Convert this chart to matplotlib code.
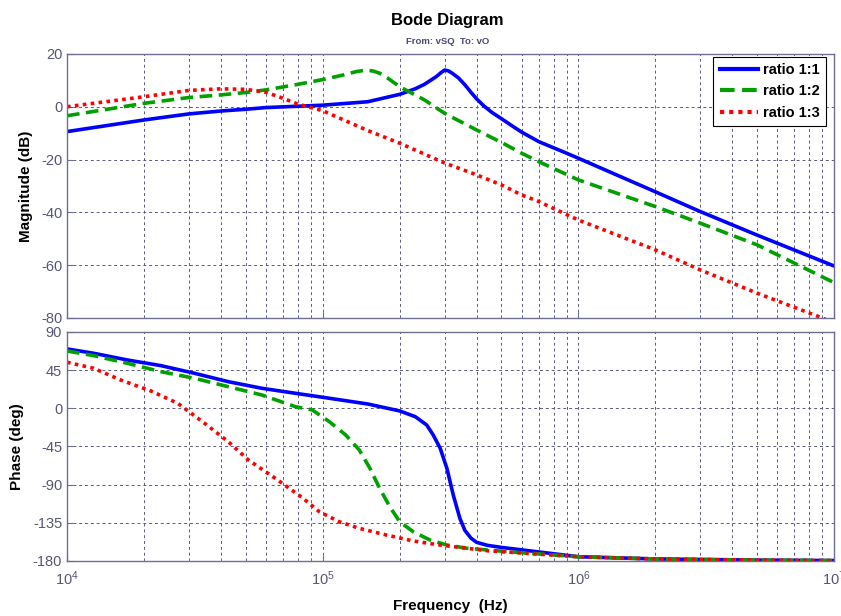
import matplotlib
matplotlib.use("Agg")
import matplotlib.pyplot as plt
import numpy as np
from matplotlib.ticker import LogLocator, NullFormatter

plt.rcParams["font.family"] = ["Liberation Sans", "DejaVu Sans"]
plt.rcParams["axes.unicode_minus"] = False

# magnitude traces (frequency in Hz, gain in dB)
mag_f_11 = [1e4, 2e4, 3e4, 4e4, 5e4, 6e4, 8e4, 1e5, 1.5e5, 2e5, 2.3e5, 2.5e5,
            2.78e5, 2.9e5, 3e5, 3.1e5, 3.2e5, 3.4e5, 3.6e5, 3.8e5, 4e5, 4.27e5,
            4.6e5, 5e5, 5.5e5, 6e5, 7e5, 9e5, 1e6, 2e6, 3e6, 5e6, 1e7]
mag_db_11 = [-9.4, -5.0, -2.7, -1.6, -0.95, -0.3, 0.2, 0.6, 1.9, 4.7, 6.8, 8.5,
             11.4, 12.9, 13.9, 13.6, 12.8, 10.9, 8.3, 5.5, 3.0, 0.3,
             -2.2, -4.5, -7.2, -9.6, -13.2, -17.6, -19.5, -32.2, -39.7, -48.6,
             -60.3]

mag_f_12 = [1e4, 2e4, 3e4, 4e4, 5e4, 6e4, 8e4, 1e5, 1.2e5, 1.35e5, 1.48e5,
            1.58e5, 1.67e5, 1.8e5, 2e5, 2.5e5, 3e5, 4e5, 5e5, 6e5, 7e5, 1e6,
            2e6, 3e6, 5e6, 1e7]
mag_db_12 = [-3.4, 1.3, 3.5, 4.5, 5.4, 6.4, 8.5, 10.3, 12.0, 13.3, 13.9,
             13.5, 12.7, 10.8, 7.6, 2.6, -2.5, -8.8, -13.5, -17.6, -20.8,
             -27.7, -37.8, -44.1, -52.3, -66.6]

mag_f_13 = [1e4, 2e4, 3e4, 4e4, 5e4, 6e4, 7e4, 8e4, 9e4, 1e5, 1.5e5, 2e5, 3e5,
            4e5, 5e5, 6e5, 7e5, 1e6, 2e6, 3e6, 5e6, 9e6, 1e7]
mag_db_13 = [0.0, 3.8, 6.2, 6.8, 6.6, 5.5, 3.2, 1.0, -0.3, -1.5, -9.0, -13.8,
             -21.3, -25.8, -29.6, -33.4, -35.9, -42.9, -54.2, -61.8, -70.6,
             -80.0, -82.0]

# phase traces (frequency in Hz, phase in degrees)
ph_f_11 = [1e4, 1.27e4, 1.72e4, 2.33e4, 3.15e4, 4.27e4, 5.78e4, 7.82e4, 1e5,
           1.5e5, 2e5, 2.3e5, 2.55e5, 2.7e5, 2.88e5, 3.06e5, 3.24e5, 3.44e5,
           3.6e5, 3.8e5, 4e5, 4.4e5, 5e5, 1e6, 2e6, 5e6, 1e7]
ph_deg_11 = [70, 64.9, 57, 50.3, 41.3, 31.4, 23.6, 17.7, 13, 5.1, -3.1, -9.8,
             -19.6, -31, -47, -70.7, -102, -129.7, -144, -153, -158, -161.5,
             -164, -175, -177.6, -179, -179.5]

ph_f_12 = [1e4, 1.27e4, 1.72e4, 2.33e4, 3.15e4, 4.27e4, 5.78e4, 7.82e4, 9.1e4,
           1.06e5, 1.23e5, 1.39e5, 1.53e5, 1.67e5, 1.83e5, 2e5, 2.26e5, 2.63e5,
           3.06e5, 3.67e5, 4.4e5, 5.27e5, 1e6, 2e6, 5e6, 1e7]
ph_deg_12 = [67.6, 62.1, 53.1, 43.2, 35.4, 25.5, 15.7, 1.9, -1.9, -15.6, -31.4,
             -49.1, -70.7, -94.3, -116, -133.7, -145.5, -155.3, -161.2, -165,
             -167, -169, -175, -177.6, -179, -179.5]

ph_f_13 = [1e4, 1.27e4, 1.62e4, 2.13e4, 2.71e4, 3.45e4, 4.27e4, 5.12e4, 6.52e4,
           8.32e4, 9.7e4, 1.16e5, 1.39e5, 1.77e5, 2.26e5, 2.88e5, 3.67e5, 4.4e5,
           5.6e5, 1e6, 2e6, 5e6, 1e7]
ph_deg_13 = [54.3, 47.2, 33.4, 20.4, 5.9, -17.6, -39.3, -60.9, -82.5, -105.3,
             -121.9, -133.7, -141.5, -149.3, -156.4, -161.2, -165, -167.9, -170,
             -175, -177.6, -179, -179.5]

labels = ["ratio 1:1", "ratio 1:2", "ratio 1:3"]
colors = ["#0000ff", "#00a000", "#ff0000"]
styles = ["-", (0, (3.5, 1.8)), (0, (1, 1.2))]

axis_col = "#6e6e90"
tick_col = "#55557a"

fig = plt.figure(figsize=(8.41, 6.16), dpi=100)
ax_m = fig.add_axes([0.0797, 0.4838, 0.912, 0.4286])
ax_p = fig.add_axes([0.0797, 0.0893, 0.912, 0.3718])

mags = [(mag_f_11, mag_db_11), (mag_f_12, mag_db_12), (mag_f_13, mag_db_13)]
phases = [(ph_f_11, ph_deg_11), (ph_f_12, ph_deg_12), (ph_f_13, ph_deg_13)]

for (f, m), lab, c, ls in zip(mags, labels, colors, styles):
    ax_m.semilogx(f, m, color=c, linestyle=ls, linewidth=2.6, label=lab)
for (f, p), c, ls in zip(phases, colors, styles):
    ax_p.semilogx(f, p, color=c, linestyle=ls, linewidth=2.6)

for ax in (ax_m, ax_p):
    ax.set_xlim(1e4, 1e7)
    ax.xaxis.set_major_locator(LogLocator(base=10))
    ax.xaxis.set_minor_locator(LogLocator(base=10, subs=np.arange(2, 10)))
    ax.xaxis.set_minor_formatter(NullFormatter())
    ax.grid(True, which="both", axis="x", color="#5a5a80", linestyle=(0, (3, 3)),
            linewidth=0.7)
    ax.grid(True, which="major", axis="y", color="#5a5a80", linestyle=(0, (3, 3)),
            linewidth=0.7)
    for s in ax.spines.values():
        s.set_color(axis_col)
        s.set_linewidth(1.0)
    ax.tick_params(which="both", direction="in", colors=axis_col,
                   labelcolor=tick_col, labelsize=10.5, length=4)
    ax.tick_params(which="minor", length=2)

ax_m.set_ylim(-80, 20)
ax_m.set_yticks(np.arange(-80, 21, 20))
ax_m.tick_params(labelbottom=False)
ax_m.set_ylabel("Magnitude (dB)", fontsize=11, fontweight="bold", labelpad=6)

ax_p.set_ylim(-180, 90)
ax_p.set_yticks(np.arange(-180, 91, 45))
ax_p.set_ylabel("Phase (deg)", fontsize=11, fontweight="bold", labelpad=6)
ax_p.set_xlabel("Frequency  (Hz)", fontsize=11, fontweight="bold", labelpad=8)
ax_p.tick_params(axis="x", pad=6)

leg = ax_m.legend(loc="upper right", bbox_to_anchor=(0.99, 0.99),
                  fancybox=False, framealpha=1, edgecolor="black",
                  borderaxespad=0, handlelength=2.6, handletextpad=0.35,
                  borderpad=0.45, prop={"weight": "bold", "size": 10.5},
                  labelspacing=0.5)
leg.get_frame().set_linewidth(0.8)
for line in leg.get_lines():
    line.set_linewidth(3.0)

fig.text(0.532, 0.967, "Bode Diagram", ha="center", va="center",
         fontsize=12, fontweight="bold")
fig.text(0.532, 0.932, "From: vSQ  To: vO", ha="center", va="center",
         fontsize=6.8, fontweight="bold", color="#4a4a78")

fig.savefig("out.png", dpi=100)
